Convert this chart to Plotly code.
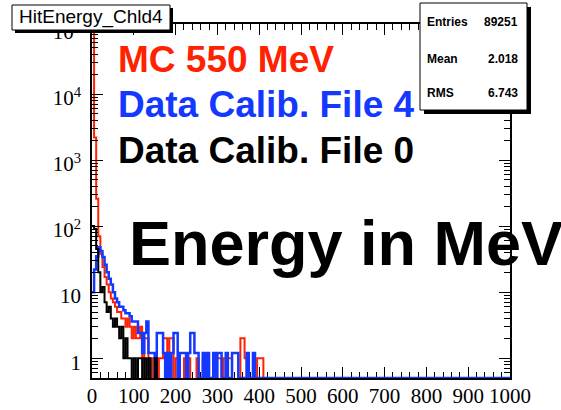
import plotly.graph_objects as go

# Histogram binning: 200 bins of 5 MeV over 0-1000 MeV
BIN_WIDTH = 5
N_BINS = 200
X_RANGE = [0, 1000]
Y_LOG_RANGE = [-0.30, 5.06]

# Bin contents for the first 85 bins (0-425 MeV); all later bins are empty
mc_550 = [
    130000, 2200, 260, 70, 38, 24, 17, 13, 10, 8,
    7, 6, 5, 5, 4, 4, 3, 4, 3, 2,
    3, 2, 2, 3, 1, 2, 2, 1, 0, 1,
    1, 0, 1, 1, 2, 2, 0, 2, 2, 0,
    1, 1, 0, 0, 1, 0, 1, 0, 0, 0,
    1, 0, 0, 1, 1, 1, 0, 0, 1, 1,
    1, 1, 0, 1, 1, 1, 1, 0, 0, 0,
    0, 2, 2, 1, 0, 0, 0, 0, 0, 1,
    1, 1, 0, 0, 0,
]
data_file4 = [
    10, 22, 35, 48, 42, 34, 26, 20, 16, 13,
    10, 8, 7, 6, 6, 5.3, 4.8, 4.8, 4.3, 3.6,
    3.6, 3.6, 2.4, 2.4, 1.2, 2.4, 3.6, 1.2, 1.2, 1.2,
    0, 2.4, 2.4, 2.4, 1.2, 0, 1.2, 0, 1.2, 2.4,
    2.4, 0, 1.2, 1.2, 1.2, 0, 1.2, 2.4, 2.4, 1.2,
    1.2, 0, 0, 1.2, 0, 1.2, 0, 0, 1.2, 0,
    1.2, 1.2, 0, 0, 1.2, 0, 0, 1.2, 1.2, 1.2,
    0, 0, 0, 0, 1.2, 0, 0, 1.2, 0, 0,
    0, 0, 0, 0, 0,
]
data_file0 = [
    100, 90, 45, 20, 10, 12, 7, 5, 6, 4,
    3, 4, 3, 2, 3, 1, 2, 1, 1, 0,
    1, 0, 1, 1, 0, 1, 0, 1, 0, 0,
    1, 0, 0, 0, 0, 0, 0, 0, 0, 0,
]

x_tick_values = list(range(0, 1001, 100))
x_tick_labels = [str(v) for v in x_tick_values]
x_minor_values = [v for v in range(0, 1001, 20) if v % 100]
y_tick_values = [1, 10, 100, 1000, 10000, 100000]
y_tick_labels = ["1", "10", "10<sup>2</sup>", "10<sup>3</sup>", "10<sup>4</sup>", "10<sup>5</sup>"]
y_minor_values = [m * 10 ** d for d in range(-1, 5) for m in range(2, 10) if m * 10 ** d >= 0.5]

stats_names = ["Entries", "Mean", "RMS"]
stats_values = ["89251", "2.018", "6.743"]

RED = "#ff2200"
BLUE = "#1438ff"
BLACK = "#000000"

edges = [i * BIN_WIDTH for i in range(N_BINS + 1)]
y_floor = 10 ** Y_LOG_RANGE[0]


def step_points(counts, empty_level):
    full = list(counts) + [0] * (N_BINS - len(counts))
    ys = [c if c > 0 else empty_level for c in full]
    ys.append(ys[-1])
    return edges, ys


fig = go.Figure()
for counts, color, width, empty in [
    (mc_550, RED, 2, 1e-3),
    (data_file4, BLUE, 2.5, y_floor),
    (data_file0, BLACK, 2, 1e-3),
]:
    xs, ys = step_points(counts, empty)
    fig.add_trace(go.Scatter(
        x=xs, y=ys, mode="lines", line=dict(shape="hv", color=color, width=width),
        hoverinfo="skip", showlegend=False,
    ))

# Plot-area geometry in pixels
L, R, T, B = 92, 51, 24, 32
W, H = 561, 410
PW, PH = W - L - R, H - T - B


def px_x(p):
    return (p - L) / PW


def px_y(p):
    return (H - B - p) / PH


shapes = []


def add_box(x0, y0, x1, y1, shadow):
    shapes.append(dict(type="rect", xref="paper", yref="paper",
                       x0=px_x(x0 + shadow), x1=px_x(x1 + shadow),
                       y0=px_y(y0 + shadow), y1=px_y(y1 + shadow),
                       fillcolor="black", line=dict(width=0), layer="above"))
    shapes.append(dict(type="rect", xref="paper", yref="paper",
                       x0=px_x(x0), x1=px_x(x1), y0=px_y(y0), y1=px_y(y1),
                       fillcolor="white", line=dict(color="black", width=1), layer="above"))


add_box(12, 5, 170, 30, 3)
add_box(420, 3, 527, 110, 4)

annotations = [
    dict(x=px_x(91), y=px_y(17.5), text="HitEnergy_Chld4", xanchor="center", yanchor="middle",
         font=dict(family="Liberation Sans", size=19, color="black")),
]
for name, val, ypx in zip(stats_names, stats_values, [22, 59, 93]):
    annotations.append(dict(x=px_x(425), y=px_y(ypx), text=f"<b>{name}</b>", xanchor="left",
                            yanchor="middle", font=dict(family="Liberation Sans", size=12, color="black")))
    annotations.append(dict(x=px_x(520), y=px_y(ypx), text=f"<b>{val}</b>", xanchor="right",
                            yanchor="middle", font=dict(family="Liberation Sans", size=12, color="black")))

for text, color, ypx, size, xpx in [
    ("MC 550 MeV", RED, 60, 37, 116),
    ("Data Calib. File 4", BLUE, 105, 37, 116),
    ("Data Calib. File 0", BLACK, 150, 37, 116),
    ("Energy in MeV", BLACK, 243, 63, 127),
]:
    annotations.append(dict(x=px_x(xpx), y=px_y(ypx), text=f"<b>{text}</b>", xanchor="left",
                            yanchor="middle", font=dict(family="Liberation Sans", size=size, color=color)))

for a in annotations:
    a.update(xref="paper", yref="paper", showarrow=False)

axis_common = dict(
    ticks="inside", tickcolor="black", tickwidth=1, ticklen=11,
    showline=True, linecolor="black", linewidth=1.5, mirror="allticks",
    showgrid=False, zeroline=False, automargin=False,
    tickfont=dict(family="Liberation Serif", size=21, color="black"),
)

fig.update_layout(
    width=W, height=H, margin=dict(l=L, r=R, t=T, b=B, autoexpand=False),
    paper_bgcolor="white", plot_bgcolor="white",
    showlegend=False, shapes=shapes, annotations=annotations,
    xaxis=dict(range=X_RANGE, tickmode="array", tickvals=x_tick_values, ticktext=x_tick_labels,
               ticklabelstandoff=-2,
               minor=dict(tickmode="array", tickvals=x_minor_values, ticks="inside", ticklen=6,
                          tickcolor="black", showgrid=False),
               layer="below traces", **axis_common),
    yaxis=dict(type="log", range=Y_LOG_RANGE, tickmode="array", tickvals=y_tick_values,
               ticktext=y_tick_labels, ticklabelshift=4, ticklabelstandoff=5,
               minor=dict(tickmode="array", tickvals=y_minor_values, ticks="inside", ticklen=6,
                          tickcolor="black", showgrid=False),
               **axis_common),
)

fig.write_html("out.html", config={"displayModeBar": False})
